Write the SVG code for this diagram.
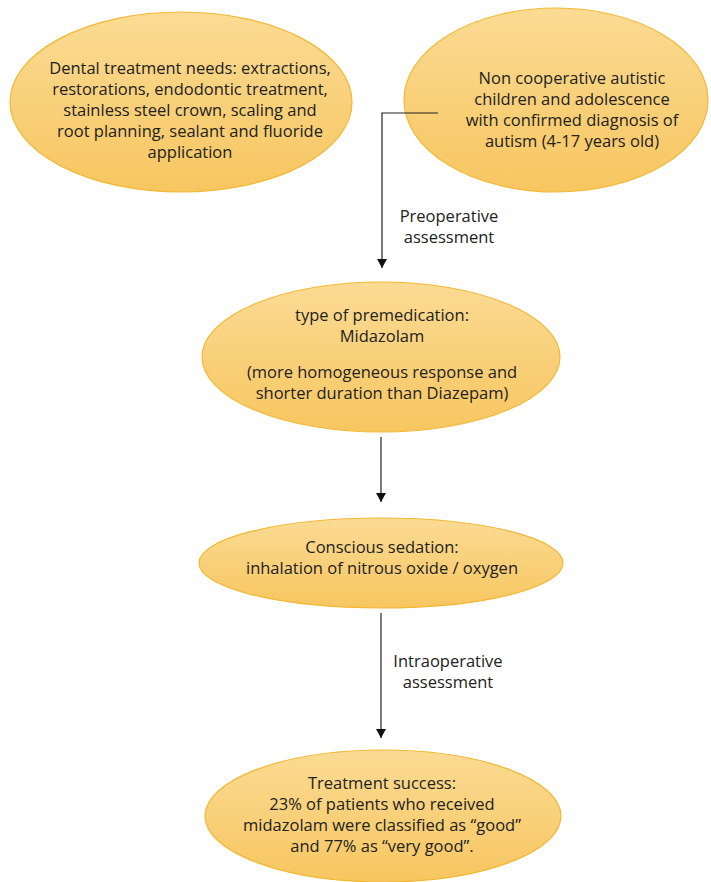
<svg xmlns="http://www.w3.org/2000/svg" width="711" height="882" viewBox="0 0 711 882">
<defs>
<linearGradient id="g" x1="0" y1="0" x2="0" y2="1">
<stop offset="0" stop-color="#fbdb94"/>
<stop offset="1" stop-color="#f7c660"/>
</linearGradient>
<marker id="ah" markerWidth="10" markerHeight="10" refX="9" refY="5" orient="auto" markerUnits="userSpaceOnUse" viewBox="0 0 10 10">
<path d="M0,0 L9,5 L0,10 z" fill="#111"/>
</marker>
</defs>
<style>
.n{fill:url(#g);stroke:#f2b835;stroke-width:1.2}
.t{font-family:"Open Sans","Liberation Sans",Arial,sans-serif;font-size:16.5px;fill:#222;text-anchor:middle}
.c{fill:none;stroke:#222;stroke-width:1.2}
</style>
<rect width="711" height="882" fill="#fff"/>
<g id="n1">
<ellipse class="n" cx="181" cy="102" rx="171" ry="90"/>
<text class="t" x="190" y="74">Dental treatment needs: extractions,</text>
<text class="t" x="190" y="95">restorations, endodontic treatment,</text>
<text class="t" x="190" y="116">stainless steel crown, scaling and</text>
<text class="t" x="190" y="137">root planning, sealant and fluoride</text>
<text class="t" x="190" y="158">application</text>
</g>
<g id="n2">
<ellipse class="n" cx="556" cy="100" rx="152" ry="92"/>
<text class="t" x="572" y="84">Non cooperative autistic</text>
<text class="t" x="572" y="105">children and adolescence</text>
<text class="t" x="572" y="126">with confirmed diagnosis of</text>
<text class="t" x="572" y="147">autism (4-17 years old)</text>
</g>
<g id="n3">
<ellipse class="n" cx="381" cy="357" rx="179" ry="75"/>
<text class="t" x="382" y="321">type of premedication:</text>
<text class="t" x="382" y="342">Midazolam</text>
<text class="t" x="382" y="378">(more homogeneous response and</text>
<text class="t" x="382" y="399">shorter duration than Diazepam)</text>
</g>
<g id="n4">
<ellipse class="n" cx="381" cy="563" rx="182" ry="45"/>
<text class="t" x="382" y="553">Conscious sedation:</text>
<text class="t" x="382" y="574">inhalation of nitrous oxide / oxygen</text>
</g>
<g id="n5">
<ellipse class="n" cx="383" cy="816" rx="178" ry="66"/>
<text class="t" x="382" y="789">Treatment success:</text>
<text class="t" x="382" y="810">23% of patients who received</text>
<text class="t" x="382" y="831">midazolam were classified as “good”</text>
<text class="t" x="382" y="852">and 77% as “very good”.</text>
</g>
<g id="connectors">
<path class="c" d="M438,113 H382 V268" marker-end="url(#ah)"/>
<path class="c" d="M381,437 V502" marker-end="url(#ah)"/>
<path class="c" d="M381,613 V738" marker-end="url(#ah)"/>
<text class="t" x="449" y="222">Preoperative</text>
<text class="t" x="449" y="243">assessment</text>
<text class="t" x="448" y="667">Intraoperative</text>
<text class="t" x="448" y="688">assessment</text>
</g>
</svg>
